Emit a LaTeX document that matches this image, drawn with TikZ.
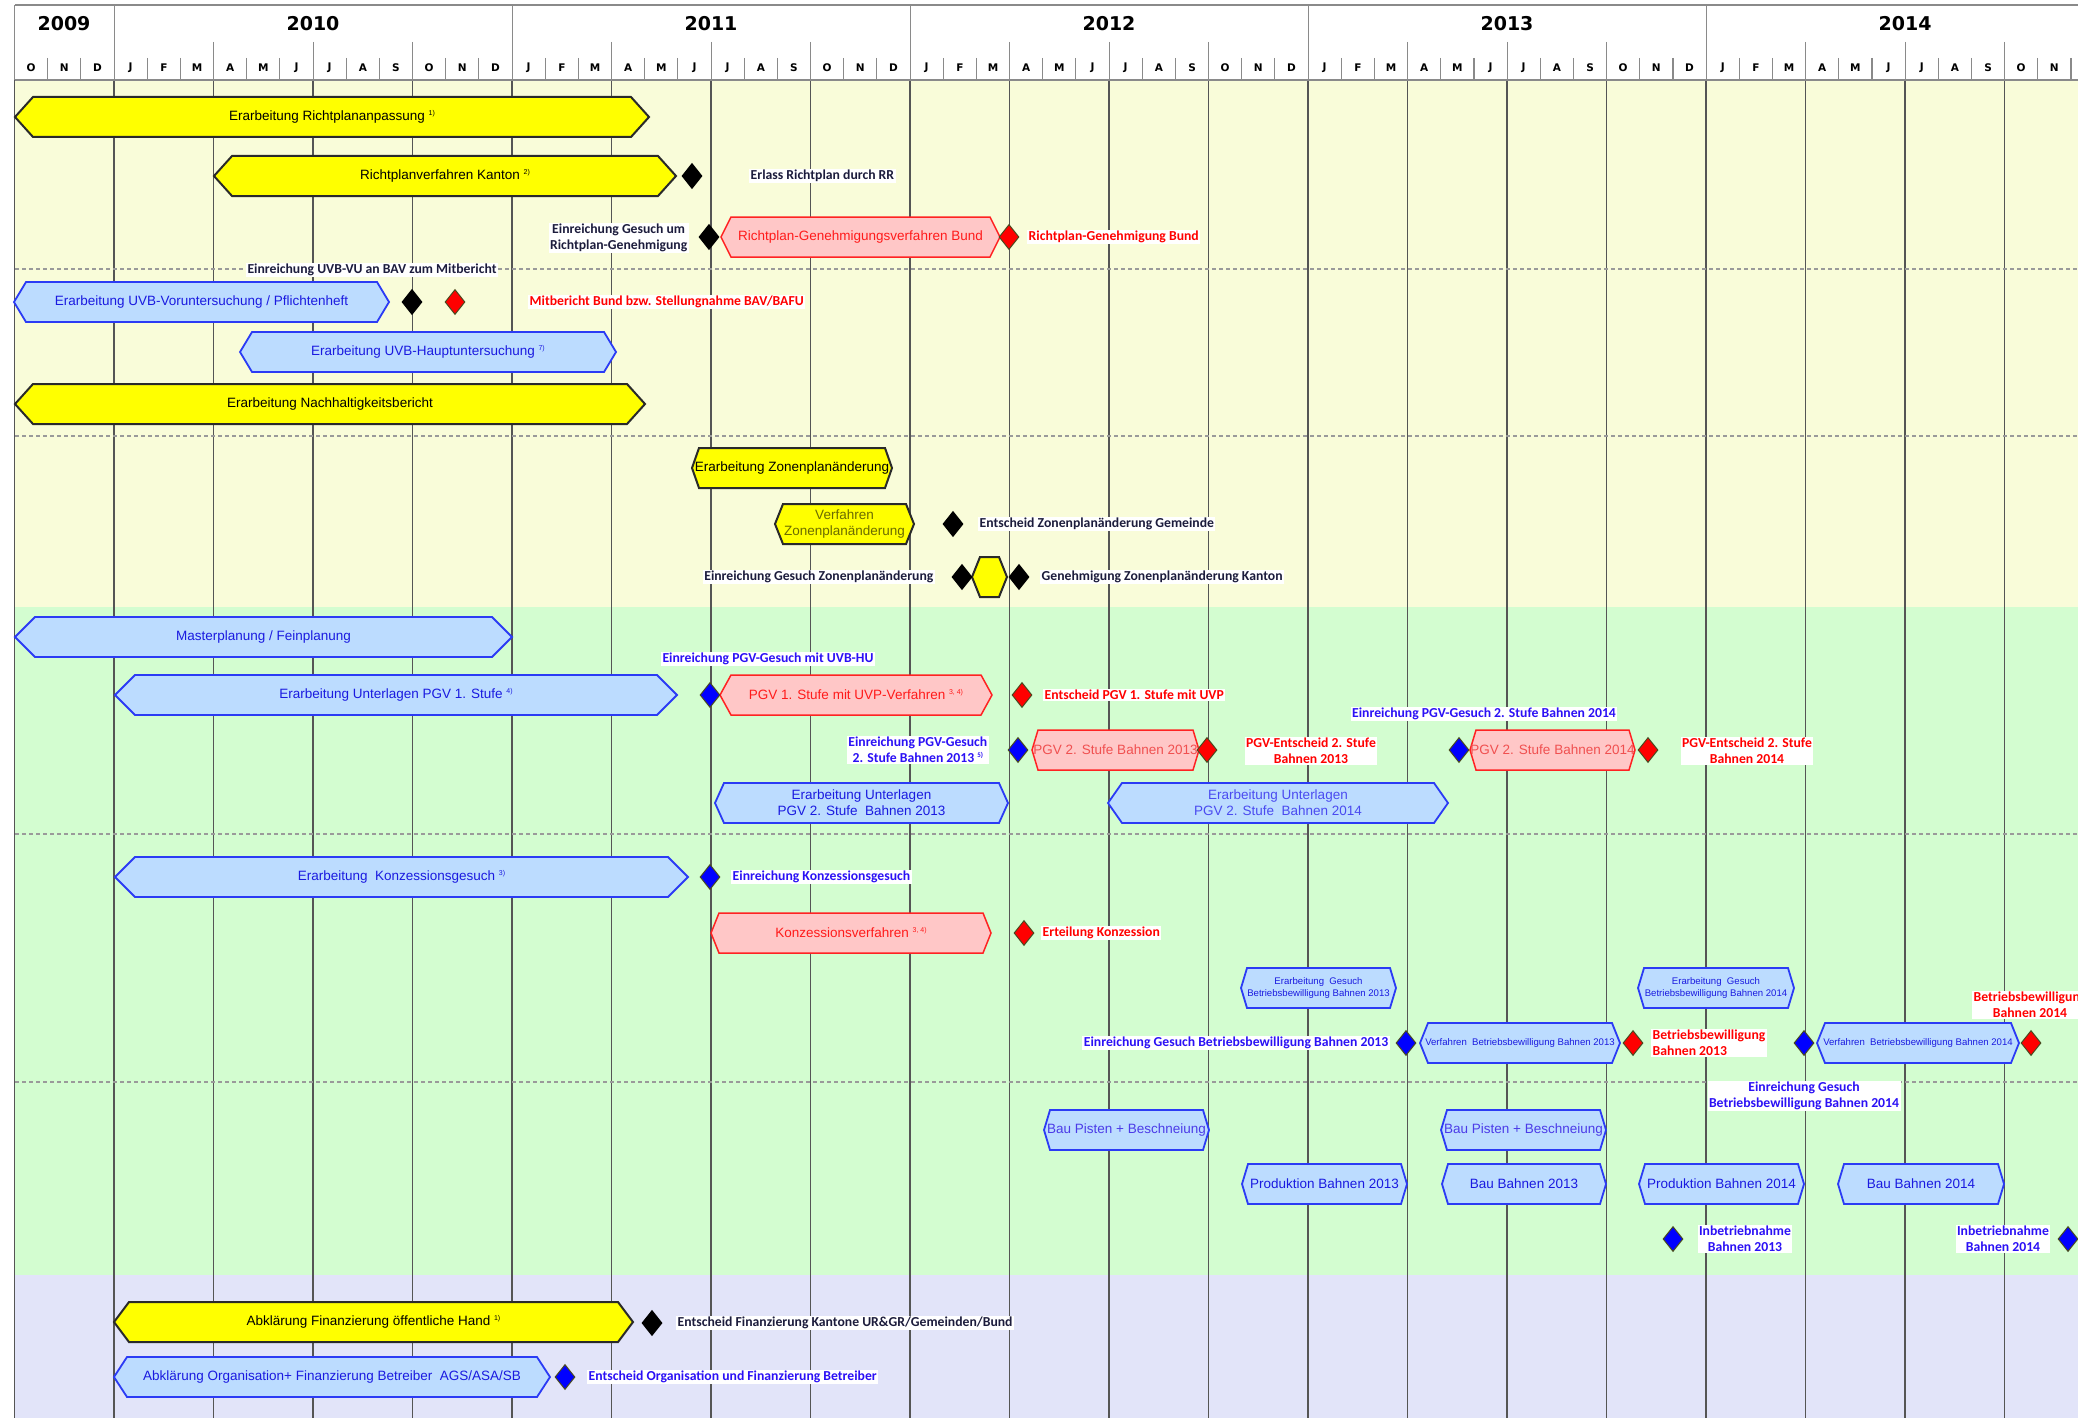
\documentclass[tikz,border=0pt]{standalone}
\usepackage{fontspec}
\setmainfont{Liberation Sans}
\newfontfamily\lblfont{Carlito}
\newfontfamily\hdrfont{DejaVu Sans}
\usetikzlibrary{shapes.geometric}
\definecolor{bgY}{HTML}{F9FCD9}
\definecolor{bgG}{HTML}{D3FDD0}
\definecolor{bgL}{HTML}{E2E4F9}
\definecolor{gridc}{HTML}{555555}
\definecolor{hdrc}{HTML}{8A8A8A}
\definecolor{dashc}{HTML}{9A9A9A}
\definecolor{yel}{HTML}{FFFF00}
\definecolor{ydraw}{HTML}{2A2A2A}
\definecolor{bluF}{HTML}{BCDCFF}
\definecolor{bluD}{HTML}{2B3BF5}
\definecolor{bluT}{HTML}{1A1AE0}
\definecolor{bluL}{HTML}{4A4AF0}
\definecolor{bluV}{HTML}{4B3BE8}
\definecolor{pinkF}{HTML}{FFC7C7}
\definecolor{redD}{HTML}{FF2222}
\definecolor{redT}{HTML}{FF1A1A}
\definecolor{redL}{HTML}{F05050}
\definecolor{oliveT}{HTML}{6B6B00}
\definecolor{msedge}{HTML}{4A4A20}
\definecolor{lblK}{HTML}{1C1C3C}
\definecolor{lblR}{HTML}{FF0000}
\definecolor{lblB}{HTML}{2B10F5}
\newcommand\fnote[1]{\raisebox{5pt}{\fontsize{7}{7}\selectfont #1}}
% #1 name, #2 shape style, #3 text style, #4 x1, #5 x2, #6 yc, #7 point depth, #8 text
\newcommand\gtask[8]{%
  \path[#2] (#4,#6) -- (#4+#7,#6-20) -- (#5-#7,#6-20) -- (#5,#6) -- (#5-#7,#6+20) -- (#4+#7,#6+20) -- cycle;
  \node[#3] (#1) at ({(#4+#5)/2},#6) {#8};}
\begin{document}
\begin{tikzpicture}[x=1pt,y=-1pt,
  gridB/.style={draw=gridc, line width=1.3pt},
  gridH/.style={draw=hdrc, line width=1.1pt},
  sepline/.style={draw=dashc, line width=1.2pt, dash pattern=on 4pt off 3pt},
  ybox/.style={fill=yel, draw=ydraw, line width=2pt},
  bbox/.style={fill=bluF, draw=bluD, line width=1.8pt},
  pbox/.style={fill=pinkF, draw=redD, line width=1.5pt},
  txt/.style={inner sep=0pt, align=center, font=\fontsize{13.5}{16}\selectfont},
  ytxt/.style={txt, text=black},
  btxt/.style={txt, text=bluT},
  ptxt/.style={txt, text=redT},
  stxt/.style={inner sep=0pt, align=center, text=bluT, font=\fontsize{9.6}{12}\selectfont},
  ms/.style={diamond, minimum width=20pt, minimum height=25pt, inner sep=0pt, line width=1pt},
  msK/.style={ms, fill=black, draw=black},
  msR/.style={ms, fill=red, draw=msedge},
  msB/.style={ms, fill=blue, draw=msedge},
  lbl/.style={fill=white, inner sep=1.5pt, align=center, font=\lblfont\bfseries\fontsize{13.7}{16}\selectfont},
  lK/.style={lbl, text=lblK},
  lR/.style={lbl, text=lblR},
  lB/.style={lbl, text=lblB},
  yrlbl/.style={font=\hdrfont\bfseries\fontsize{19}{22}\selectfont, inner sep=0pt},
  molbl/.style={font=\hdrfont\bfseries\fontsize{10.5}{12}\selectfont, inner sep=0pt}
]
\useasboundingbox (0,0) rectangle (2078,1418);
\clip (0,0) rectangle (2078,1418);
\fill[white] (0,0) rectangle (2078,1418);
% backgrounds
\fill[bgY] (15,81) rectangle (2078,607);
\fill[bgG] (15,607) rectangle (2078,1275);
\fill[bgL] (15,1275) rectangle (2078,1418);
% header borders
\draw[draw=hdrc, line width=2pt] (15,5) -- (2078,5);
% vertical lines
\foreach \m in {0,...,62}{
  \pgfmathsetmacro\xx{14.6+33.1667*\m}
  \pgfmathtruncatemacro\qq{mod(\m,3)}
  \pgfmathtruncatemacro\yy{mod(\m,12)}
  \ifnum\qq=0
    \draw[gridB] (\xx,80) -- (\xx,1418);
    \ifnum\yy=3
      \draw[gridH] (\xx,5) -- (\xx,80);
    \else
      \ifnum\m=0
        \draw[gridH] (\xx,5) -- (\xx,80);
      \else
        \draw[gridH] (\xx,42) -- (\xx,80);
      \fi
    \fi
  \else
    \draw[gridH] (\xx,58) -- (\xx,80);
  \fi
}
\draw[draw=hdrc, line width=2.5pt] (15,80) -- (2078,80);
% years
\node[yrlbl] (y2009) at (64,24) {2009};
\node[yrlbl] (y2010) at (313,24) {2010};
\node[yrlbl] (y2011) at (711,24) {2011};
\node[yrlbl] (y2012) at (1109,24) {2012};
\node[yrlbl] (y2013) at (1507,24) {2013};
\node[yrlbl] (y2014) at (1905,24) {2014};
% months
\foreach \lt [count=\i from 0] in {O,N,D,J,F,M,A,M,J,J,A,S,O,N,D,J,F,M,A,M,J,J,A,S,O,N,D,J,F,M,A,M,J,J,A,S,O,N,D,J,F,M,A,M,J,J,A,S,O,N,D,J,F,M,A,M,J,J,A,S,O,N}{
  \node[molbl] (mo\i) at ({14.6+33.1667*(\i+0.5)},68) {\lt};
}
% dashed separators
\draw[sepline] (15,269) -- (2078,269);
\draw[sepline] (15,436) -- (2078,436);
\draw[sepline] (15,834) -- (2078,834);
\draw[sepline] (15,1082) -- (2078,1082);

% tasks
\gtask{tRPA}{ybox}{ytxt}{15}{649}{117}{18}{Erarbeitung Richtplananpassung \fnote{1)}}
\gtask{tRPK}{ybox}{ytxt}{214}{676}{176}{18}{Richtplanverfahren Kanton \fnote{2)}}
\gtask{tRPG}{pbox}{ptxt}{721}{1000}{237}{10}{Richtplan-Genehmigungsverfahren Bund}
\gtask{tUVBV}{bbox}{btxt}{14}{389}{302}{12}{Erarbeitung UVB-Voruntersuchung / Pflichtenheft}
\gtask{tUVBH}{bbox}{btxt}{240}{616}{352}{12}{Erarbeitung UVB-Hauptuntersuchung \fnote{7)}}
\gtask{tNHB}{ybox}{ytxt}{15}{645}{404}{18}{Erarbeitung Nachhaltigkeitsbericht}
\gtask{tZPE}{ybox}{ytxt}{692}{892}{468}{7}{Erarbeitung Zonenplanänderung}
\gtask{tZPV}{ybox}{ytxt, text=oliveT}{775}{914}{524}{8}{Verfahren\\Zonenplanänderung}
\gtask{tZPK}{ybox}{ytxt}{972}{1007}{577}{8}{}
\gtask{tMP}{bbox}{btxt}{15}{512}{637}{20}{Masterplanung / Feinplanung}
\gtask{tPGV1U}{bbox}{btxt}{115}{677}{695}{20}{Erarbeitung Unterlagen PGV 1. Stufe \fnote{4)}}
\gtask{tPGV1}{pbox}{ptxt}{720}{992}{695}{11}{PGV 1. Stufe mit UVP-Verfahren \fnote{3, 4)}}
\gtask{tPGV2a}{pbox}{ptxt, text=redL}{1032}{1199}{750}{6}{PGV 2. Stufe Bahnen 2013}
\gtask{tPGV2b}{pbox}{ptxt, text=redL}{1470}{1635}{750}{6}{PGV 2. Stufe Bahnen 2014}
\gtask{tPGV2aU}{bbox}{btxt}{715}{1008}{803}{9}{Erarbeitung Unterlagen\\PGV 2. Stufe\ \ Bahnen 2013}
\gtask{tPGV2bU}{bbox}{btxt, text=bluL}{1108}{1448}{803}{14}{Erarbeitung Unterlagen\\PGV 2. Stufe\ \ Bahnen 2014}
\gtask{tKG}{bbox}{btxt}{115}{688}{877}{20}{Erarbeitung\ \ Konzessionsgesuch \fnote{3)}}
\gtask{tKV}{pbox}{ptxt}{711}{991}{933}{8}{Konzessionsverfahren \fnote{3, 4)}}
\gtask{tBBG13}{bbox}{stxt}{1241}{1396}{988}{6}{Erarbeitung\ \ Gesuch\\Betriebsbewilligung Bahnen 2013}
\gtask{tBBG14}{bbox}{stxt}{1638}{1794}{988}{6}{Erarbeitung\ \ Gesuch\\Betriebsbewilligung Bahnen 2014}
\gtask{tBBV13}{bbox}{stxt}{1420}{1620}{1043}{8}{Verfahren\ \ Betriebsbewilligung Bahnen 2013}
\gtask{tBBV14}{bbox}{stxt}{1817}{2019}{1043}{8}{Verfahren\ \ Betriebsbewilligung Bahnen 2014}
\gtask{tBP13}{bbox}{btxt, text=bluV}{1044}{1209}{1130}{6}{Bau Pisten + Beschneiung}
\gtask{tBP14}{bbox}{btxt, text=bluV}{1441}{1606}{1130}{6}{Bau Pisten + Beschneiung}
\gtask{tPB13}{bbox}{btxt}{1242}{1407}{1184}{6}{Produktion Bahnen 2013}
\gtask{tBB13}{bbox}{btxt}{1442}{1606}{1184}{6}{Bau Bahnen 2013}
\gtask{tPB14}{bbox}{btxt}{1639}{1804}{1184}{6}{Produktion Bahnen 2014}
\gtask{tBB14}{bbox}{btxt}{1838}{2004}{1184}{6}{Bau Bahnen 2014}
\gtask{tAFH}{ybox}{ytxt}{114}{633}{1322}{15}{Abklärung Finanzierung öffentliche Hand \fnote{1)}}
\gtask{tAOF}{bbox}{btxt}{114}{550}{1377}{13}{Abklärung Organisation+ Finanzierung Betreiber\ \ AGS/ASA/SB}

% milestones
\node[msK] (dErlass) at (692,176) {};
\node[msK] (dEinrRP) at (709,237) {};
\node[msR] (dRPGen) at (1009,237) {};
\node[msK] (dUVBVU) at (412,302) {};
\node[msR] (dMitb) at (455,302) {};
\node[msK] (dEntZG) at (953,524) {};
\node[msK] (dEinrZ) at (962,577) {};
\node[msK] (dGenZ) at (1019,577) {};
\node[msB] (dPGV1e) at (710,695) {};
\node[msR] (dPGV1r) at (1022,695) {};
\node[msB] (dPGV2a) at (1018,750) {};
\node[msR] (dPGV2ar) at (1207,750) {};
\node[msB] (dPGV2b) at (1459,750) {};
\node[msR] (dPGV2br) at (1648,750) {};
\node[msB] (dKonzE) at (710,877) {};
\node[msR] (dKonzR) at (1024,933) {};
\node[msB] (dBB13e) at (1406,1043) {};
\node[msR] (dBB13r) at (1633,1043) {};
\node[msB] (dBB14e) at (1804,1043) {};
\node[msR] (dBB14r) at (2031,1043) {};
\node[msB] (dInb13) at (1673,1239) {};
\node[msB] (dInb14) at (2068,1239) {};
\node[msK] (dFinK) at (652,1323) {};
\node[msB] (dOrgB) at (565,1377) {};

% milestone labels
\node[lK, anchor=west] (lErlass) at (749,176) {Erlass Richtplan durch RR};
\node[lK, anchor=east] (lEinrRP) at (689,238) {Einreichung Gesuch um\\Richtplan-Genehmigung};
\node[lR, anchor=west] (lRPGen) at (1027,237) {Richtplan-Genehmigung Bund};
\node[lK] (lUVBVU) at (372,270) {Einreichung UVB-VU an BAV zum Mitbericht};
\node[lR, anchor=west] (lMitb) at (528,302) {Mitbericht Bund bzw. Stellungnahme BAV/BAFU};
\node[lK, anchor=west] (lEntZG) at (978,524) {Entscheid Zonenplanänderung Gemeinde};
\node[lK, anchor=east] (lEinrZ) at (935,577) {Einreichung Gesuch Zonenplanänderung};
\node[lK, anchor=west] (lGenZ) at (1040,577) {Genehmigung Zonenplanänderung Kanton};
\node[lB] (lPGVHU) at (768,659) {Einreichung PGV-Gesuch mit UVB-HU};
\node[lR, anchor=west] (lPGV1r) at (1043,695) {Entscheid PGV 1. Stufe mit UVP};
\node[lB] (lPGV2bE) at (1484,714) {Einreichung PGV-Gesuch 2. Stufe Bahnen 2014};
\node[lB, anchor=east] (lPGV2aE) at (989,750) {Einreichung PGV-Gesuch\\2. Stufe Bahnen 2013 \fnote{5)}};
\node[lR] (lPGV2ar) at (1311,751) {PGV-Entscheid 2. Stufe\\Bahnen 2013};
\node[lR] (lPGV2br) at (1747,751) {PGV-Entscheid 2. Stufe\\Bahnen 2014};
\node[lB, anchor=west] (lKonzE) at (731,877) {Einreichung Konzessionsgesuch};
\node[lR, anchor=west] (lKonzR) at (1041,933) {Erteilung Konzession};
\node[lB, anchor=east] (lBB13e) at (1390,1043) {Einreichung Gesuch Betriebsbewilligung Bahnen 2013};
\node[lR, anchor=west, align=left] (lBB13r) at (1651,1043) {Betriebsbewilligung\\Bahnen 2013};
\node[lR] (lBB14r) at (2030,1005) {Betriebsbewilligung\\Bahnen 2014};
\node[lB] (lBB14e) at (1804,1096) {Einreichung Gesuch\\Betriebsbewilligung Bahnen 2014};
\node[lB] (lInb13) at (1745,1239) {Inbetriebnahme\\Bahnen 2013};
\node[lB] (lInb14) at (2003,1239) {Inbetriebnahme\\Bahnen 2014};
\node[lK, anchor=west] (lFinK) at (676,1323) {Entscheid Finanzierung Kantone UR\&GR/Gemeinden/Bund};
\node[lB, anchor=west] (lOrgB) at (587,1377) {Entscheid Organisation und Finanzierung Betreiber};
\end{tikzpicture}
\end{document}
